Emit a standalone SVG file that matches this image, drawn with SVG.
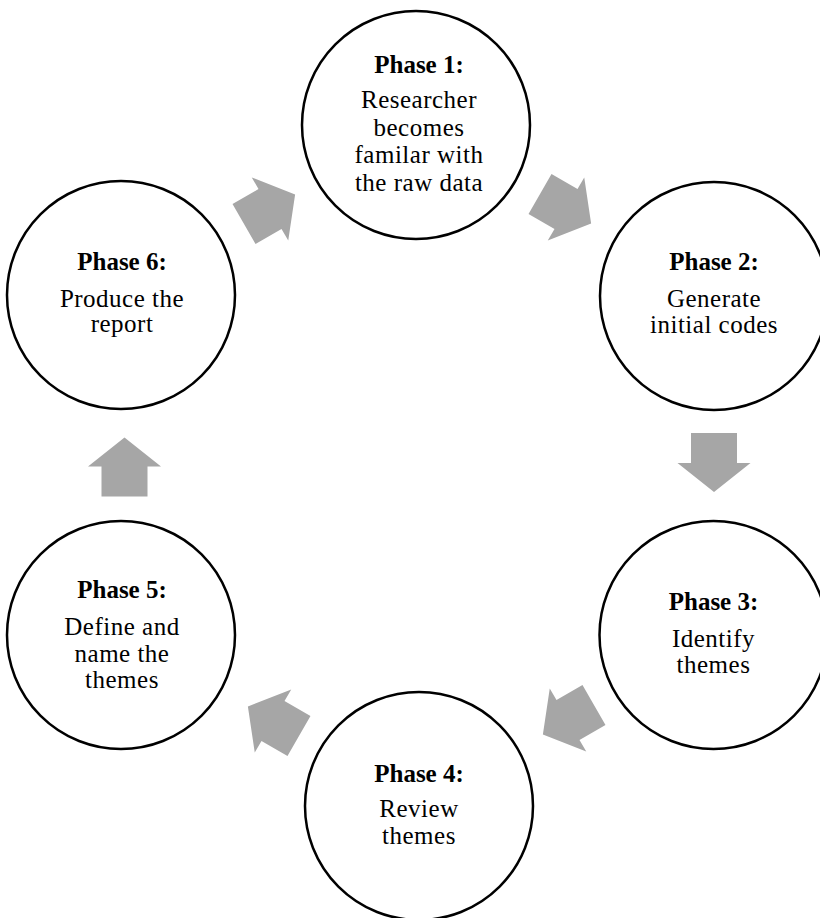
<svg xmlns="http://www.w3.org/2000/svg" width="820" height="918" viewBox="0 0 820 918">
<defs>
<style>
.node{fill:#ffffff;stroke:#000000;stroke-width:2.5}
.t{font-family:"Liberation Serif","Times New Roman",serif;font-size:25px;fill:#000000;text-anchor:middle;letter-spacing:0.5px}
.h{font-weight:bold;letter-spacing:0}
.arr{fill:#A6A6A6}
</style>
<polygon id="blk" points="-30,-23 0,-23 0,-36.5 29,0 0,36.5 0,23 -30,23"/>
</defs>
<rect width="820" height="918" fill="#ffffff"/>
<g id="connectors" class="arr">
<use href="#blk" transform="translate(566,209) rotate(30)"/>
<use href="#blk" transform="translate(714,463) rotate(90)"/>
<use href="#blk" transform="translate(568,720) rotate(150)"/>
<use href="#blk" transform="translate(273,721) rotate(210)"/>
<use href="#blk" transform="translate(124.5,466.5) rotate(270)"/>
<use href="#blk" transform="translate(270,209) rotate(330)"/>
</g>
<g id="phase1">
<circle class="node" cx="416" cy="125" r="114"/>
<text class="t h" x="419" y="73">Phase 1:</text>
<text class="t" x="419" y="108">Researcher</text>
<text class="t" x="419" y="135.5">becomes</text>
<text class="t" x="419" y="163">familar with</text>
<text class="t" x="419" y="190.5">the raw data</text>
</g>
<g id="phase2">
<circle class="node" cx="714" cy="296" r="114"/>
<text class="t h" x="714" y="270">Phase 2:</text>
<text class="t" x="714" y="306.5">Generate</text>
<text class="t" x="714" y="333">initial codes</text>
</g>
<g id="phase3">
<circle class="node" cx="713.5" cy="635" r="114"/>
<text class="t h" x="713.5" y="610">Phase 3:</text>
<text class="t" x="713.5" y="646.5">Identify</text>
<text class="t" x="713.5" y="673">themes</text>
</g>
<g id="phase4">
<circle class="node" cx="419" cy="806" r="114"/>
<text class="t h" x="419" y="782">Phase 4:</text>
<text class="t" x="419" y="817">Review</text>
<text class="t" x="419" y="843.5">themes</text>
</g>
<g id="phase5">
<circle class="node" cx="121" cy="635" r="114"/>
<text class="t h" x="122" y="598">Phase 5:</text>
<text class="t" x="122" y="635">Define and</text>
<text class="t" x="122" y="661.5">name the</text>
<text class="t" x="122" y="688">themes</text>
</g>
<g id="phase6">
<circle class="node" cx="121" cy="295" r="114"/>
<text class="t h" x="122" y="270">Phase 6:</text>
<text class="t" x="122" y="306.5">Produce the</text>
<text class="t" x="122" y="332">report</text>
</g>
</svg>
